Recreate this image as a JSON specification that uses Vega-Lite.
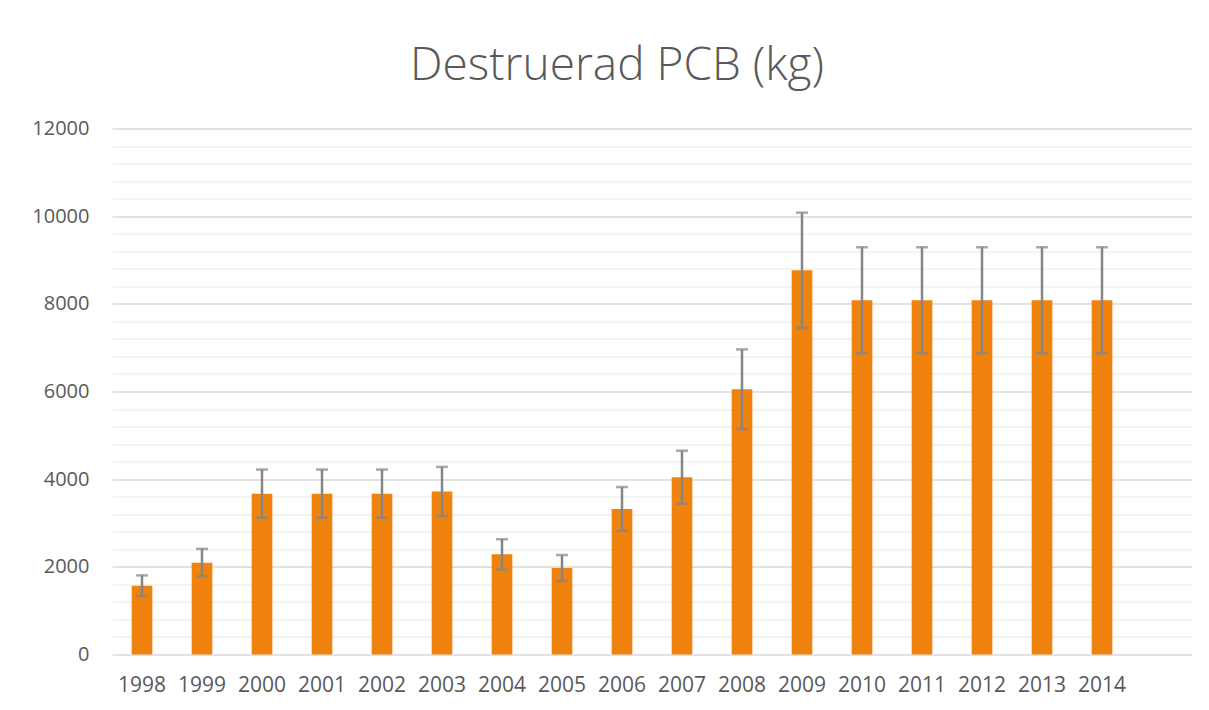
{
  "$schema": "https://vega.github.io/schema/vega-lite/v6.json",
  "autosize": "none",
  "width": 1080,
  "height": 526,
  "padding": {"left": 112, "top": 128.5, "right": 17, "bottom": 55.5},
  "background": "white",
  "title": {
    "text": "Destruerad PCB (kg)",
    "font": "Open Sans",
    "fontSize": 46,
    "fontWeight": 300,
    "color": "#595959",
    "anchor": "middle",
    "dx": -35,
    "offset": 29
  },
  "config": {
    "view": {"stroke": null},
    "font": "Open Sans"
  },
  "data": {
    "values": [
      {"year": "1998", "value": 1570, "lo": 1335, "hi": 1805},
      {"year": "1999", "value": 2095, "lo": 1780, "hi": 2410},
      {"year": "2000", "value": 3670, "lo": 3120, "hi": 4220},
      {"year": "2001", "value": 3670, "lo": 3120, "hi": 4220},
      {"year": "2002", "value": 3670, "lo": 3120, "hi": 4220},
      {"year": "2003", "value": 3720, "lo": 3160, "hi": 4280},
      {"year": "2004", "value": 2285, "lo": 1940, "hi": 2630},
      {"year": "2005", "value": 1975, "lo": 1680, "hi": 2270},
      {"year": "2006", "value": 3320, "lo": 2820, "hi": 3820},
      {"year": "2007", "value": 4045, "lo": 3440, "hi": 4650},
      {"year": "2008", "value": 6050, "lo": 5145, "hi": 6960},
      {"year": "2009", "value": 8765, "lo": 7450, "hi": 10080},
      {"year": "2010", "value": 8080, "lo": 6870, "hi": 9290},
      {"year": "2011", "value": 8080, "lo": 6870, "hi": 9290},
      {"year": "2012", "value": 8080, "lo": 6870, "hi": 9290},
      {"year": "2013", "value": 8080, "lo": 6870, "hi": 9290},
      {"year": "2014", "value": 8080, "lo": 6870, "hi": 9290}
    ]
  },
  "encoding": {
    "x": {
      "field": "year",
      "type": "nominal",
      "sort": null,
      "scale": {
        "domain": ["1998","1999","2000","2001","2002","2003","2004","2005","2006","2007","2008","2009","2010","2011","2012","2013","2014"," "],
        "paddingInner": 0.655,
        "paddingOuter": 0.3275
      },
      "axis": {
        "title": null,
        "labelAngle": 0,
        "labelFont": "Open Sans",
        "labelFontSize": 21,
        "labelColor": "#595959",
        "labelPadding": 20,
        "ticks": false,
        "domain": false,
        "grid": false
      }
    }
  },
  "layer": [
    {
      "mark": {"type": "bar", "color": "#F0820E"},
      "encoding": {
        "y": {
          "field": "value",
          "type": "quantitative",
          "scale": {"domain": [0, 12000], "nice": false},
          "axis": {
            "title": null,
            "values": [0,400,800,1200,1600,2000,2400,2800,3200,3600,4000,4400,4800,5200,5600,6000,6400,6800,7200,7600,8000,8400,8800,9200,9600,10000,10400,10800,11200,11600,12000],
            "labelExpr": "datum.value % 2000 === 0 ? datum.label : ''",
            "format": "d",
            "labelFont": "Open Sans",
            "labelFontSize": 20,
            "labelColor": "#595959",
            "labelPadding": 23,
            "ticks": false,
            "domain": false,
            "grid": true,
            "gridColor": {"condition": {"test": "datum.value % 2000 === 0", "value": "#D9D9D9"}, "value": "#F0F0F0"},
            "gridWidth": 1.5
          }
        }
      }
    },
    {
      "mark": {"type": "rule", "color": "#858585", "strokeWidth": 2.5},
      "encoding": {
        "y": {
          "field": "lo",
          "type": "quantitative",
          "axis": {
            "title": null,
            "values": [0,400,800,1200,1600,2000,2400,2800,3200,3600,4000,4400,4800,5200,5600,6000,6400,6800,7200,7600,8000,8400,8800,9200,9600,10000,10400,10800,11200,11600,12000],
            "labelExpr": "datum.value % 2000 === 0 ? datum.label : ''",
            "format": "d",
            "labelFont": "Open Sans",
            "labelFontSize": 20,
            "labelColor": "#595959",
            "labelPadding": 23,
            "ticks": false,
            "domain": false,
            "grid": true,
            "gridColor": {"condition": {"test": "datum.value % 2000 === 0", "value": "#D9D9D9"}, "value": "#F0F0F0"},
            "gridWidth": 1.5
          }
        },
        "y2": {"field": "hi"}
      }
    },
    {
      "mark": {"type": "tick", "color": "#858585", "thickness": 2.5, "size": 12},
      "encoding": {
        "y": {
          "field": "lo",
          "type": "quantitative",
          "axis": {
            "title": null,
            "values": [0,400,800,1200,1600,2000,2400,2800,3200,3600,4000,4400,4800,5200,5600,6000,6400,6800,7200,7600,8000,8400,8800,9200,9600,10000,10400,10800,11200,11600,12000],
            "labelExpr": "datum.value % 2000 === 0 ? datum.label : ''",
            "format": "d",
            "labelFont": "Open Sans",
            "labelFontSize": 20,
            "labelColor": "#595959",
            "labelPadding": 23,
            "ticks": false,
            "domain": false,
            "grid": true,
            "gridColor": {"condition": {"test": "datum.value % 2000 === 0", "value": "#D9D9D9"}, "value": "#F0F0F0"},
            "gridWidth": 1.5
          }
        }
      }
    },
    {
      "mark": {"type": "tick", "color": "#858585", "thickness": 2.5, "size": 12},
      "encoding": {
        "y": {
          "field": "hi",
          "type": "quantitative",
          "axis": {
            "title": null,
            "values": [0,400,800,1200,1600,2000,2400,2800,3200,3600,4000,4400,4800,5200,5600,6000,6400,6800,7200,7600,8000,8400,8800,9200,9600,10000,10400,10800,11200,11600,12000],
            "labelExpr": "datum.value % 2000 === 0 ? datum.label : ''",
            "format": "d",
            "labelFont": "Open Sans",
            "labelFontSize": 20,
            "labelColor": "#595959",
            "labelPadding": 23,
            "ticks": false,
            "domain": false,
            "grid": true,
            "gridColor": {"condition": {"test": "datum.value % 2000 === 0", "value": "#D9D9D9"}, "value": "#F0F0F0"},
            "gridWidth": 1.5
          }
        }
      }
    }
  ]
}
